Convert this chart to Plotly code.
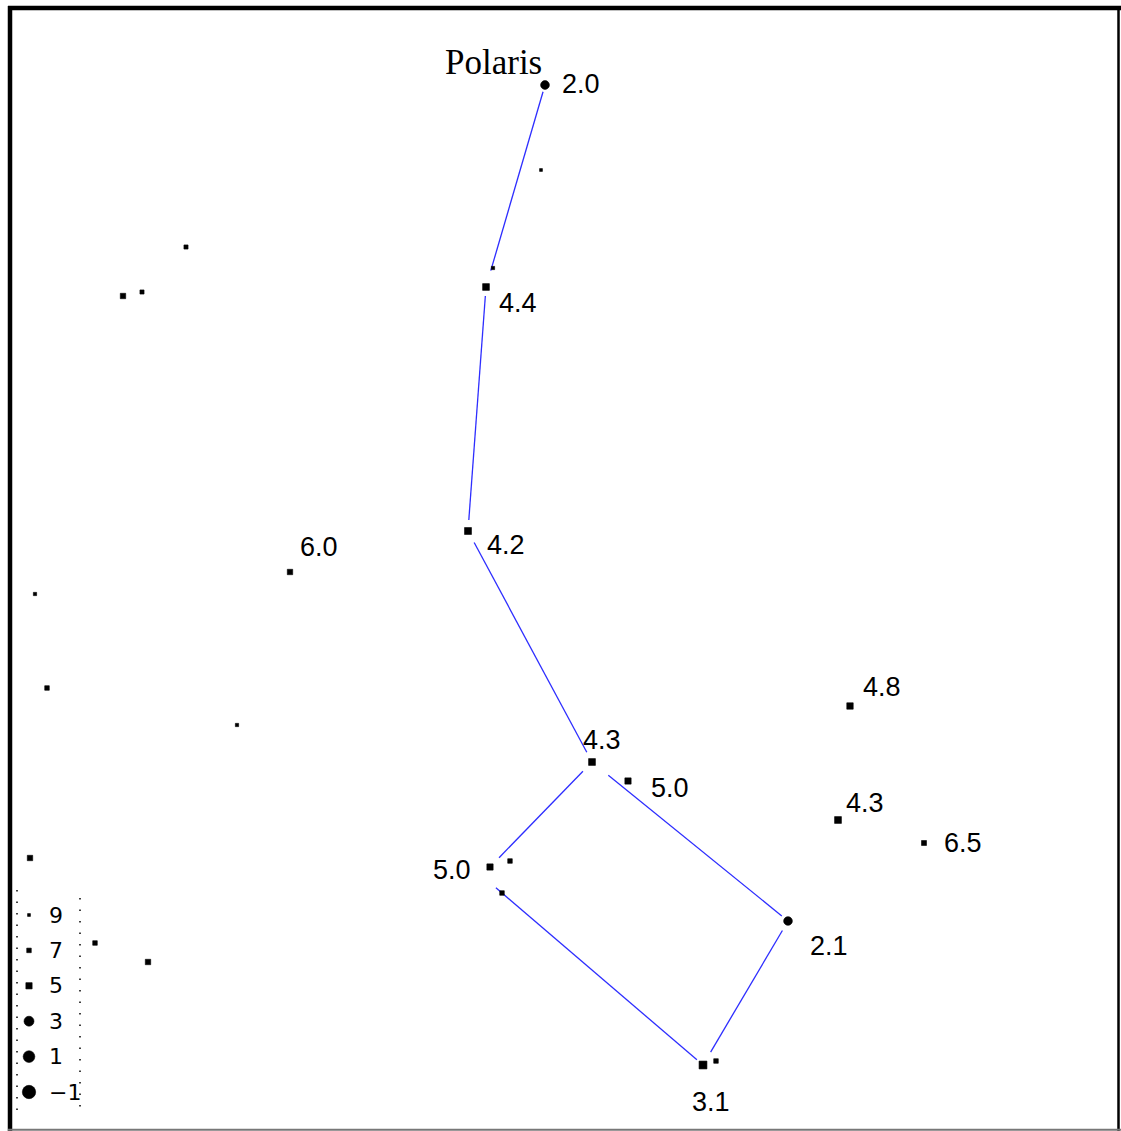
import math
import plotly.graph_objects as go

# ---- data (chart units: x to the right, y downward) ----
star_x = [545, 486, 468, 592, 628, 490, 788, 703, 850, 838, 924, 290,
          541, 493, 186, 123, 142, 35, 47, 237, 30, 95, 148, 510, 502, 716]
star_y = [85, 287, 531, 762, 781, 867, 921, 1065, 706, 820, 843, 572,
          170, 268, 247, 296, 292, 594, 688, 725, 858, 943, 962, 861, 893, 1061]
star_mag = [2.0, 4.4, 4.2, 4.3, 5.0, 5.0, 2.1, 3.1, 4.8, 4.3, 6.5, 6.0,
            9.0, 8.5, 7.5, 6.0, 7.5, 8.5, 7.0, 8.5, 6.0, 7.0, 6.0, 7.0, 7.0, 7.0]
star_label = ["2.0", "4.4", "4.2", "4.3", "5.0", "5.0", "2.1", "3.1", "4.8", "4.3", "6.5", "6.0",
              "", "", "", "", "", "", "", "", "", "", "", "", "", ""]

# asterism connections (star index pairs)
links_from = [0, 1, 2, 3, 3, 6, 24]
links_to = [1, 2, 3, 5, 6, 7, 7]

legend_mags = [9, 7, 5, 3, 1, -1]
legend_labels = ["9", "7", "5", "3", "1", "\u22121"]

# ---- style ----
label_offsets = [(36, -1), (32, 16), (38, 14), (10, -22), (42, 7), (-38, 3), (41, 25),
                 (8, 37), (32, -19), (27, -17), (39, 0), (29, -25)]
link_trims = [(7, 17), (9, 11), (13, 11), (13, 13), (21, 8), (11, 15), (-8, 8)]
LINE_BLUE = "rgb(45,45,255)"
W, H = 1121, 1131


def msize(m):
    return max(2.5, 10.5 - 0.85 * m)


def msym(m):
    return "circle" if m <= 3.0 else "square"


def px(x):
    return x / W


def py(y):
    return 1 - y / H


fig = go.Figure()

# asterism lines
lx, ly = [], []
for a, b, (t0, t1) in zip(links_from, links_to, link_trims):
    x0, y0, x1, y1 = star_x[a], star_y[a], star_x[b], star_y[b]
    d = math.hypot(x1 - x0, y1 - y0)
    ux, uy = (x1 - x0) / d, (y1 - y0) / d
    lx += [x0 + ux * t0, x1 - ux * t1, None]
    ly += [y0 + uy * t0, y1 - uy * t1, None]
fig.add_trace(go.Scatter(x=lx, y=ly, mode="lines",
                         line=dict(color=LINE_BLUE, width=1.3),
                         hoverinfo="skip", showlegend=False))

# stars
fig.add_trace(go.Scatter(
    x=star_x, y=star_y, mode="markers",
    marker=dict(color="black", size=[msize(m) for m in star_mag], opacity=1,
                symbol=[msym(m) for m in star_mag], line=dict(width=0.6, color="black")),
    showlegend=False))

# labels
for i, lab in enumerate(star_label):
    if not lab:
        continue
    dx, dy = label_offsets[i]
    fig.add_annotation(x=star_x[i], y=star_y[i], text=lab, showarrow=False,
                       xshift=dx, yshift=-dy, xanchor="center", yanchor="middle",
                       font=dict(family="Liberation Sans", size=27, color="black"))

fig.add_annotation(x=star_x[0], y=star_y[0], text="Polaris", showarrow=False,
                   xshift=-52, yshift=23, xanchor="center", yanchor="middle",
                   font=dict(family="Liberation Serif", size=35, color="black"))

# magnitude key (bottom left)
key_x = 29
key_y0, key_dy = 915, 35.4
key_y = [key_y0 + i * key_dy for i in range(len(legend_mags))]
fig.add_trace(go.Scatter(
    x=[key_x] * len(legend_mags), y=key_y, mode="markers",
    marker=dict(color="black", size=[msize(m) + (2 if m <= 3 else 0) for m in legend_mags],
                opacity=1, symbol=[msym(m) for m in legend_mags],
                line=dict(width=0.6, color="black")),
    showlegend=False, hoverinfo="skip"))
for lab, yy in zip(legend_labels, key_y):
    fig.add_annotation(x=47, y=yy, text=lab, showarrow=False, xanchor="left",
                       yanchor="middle",
                       font=dict(family="DejaVu Sans", size=22, color="black"))

shapes = [
    dict(type="line", x0=px(17), x1=px(17), y0=py(890), y1=py(1112),
         line=dict(color="black", width=1.5, dash="1.5px,10px")),
    dict(type="line", x0=px(80), x1=px(80), y0=py(898), y1=py(1112),
         line=dict(color="black", width=1.5, dash="1.5px,10px")),
    # frame
    dict(type="line", x0=px(10), x1=px(10), y0=py(6), y1=py(1131), line=dict(color="black", width=4.5)),
    dict(type="line", x0=px(8), x1=px(1121), y0=py(8), y1=py(8), line=dict(color="black", width=4.5)),
    dict(type="line", x0=px(1118.5), x1=px(1118.5), y0=py(6), y1=py(1131), line=dict(color="black", width=2.5)),
    dict(type="line", x0=px(8), x1=px(1121), y0=py(1129.8), y1=py(1129.8), line=dict(color="#777777", width=2)),
]
for s in shapes:
    s.update(xref="paper", yref="paper", layer="above")
fig.update_layout(shapes=shapes)

fig.update_layout(
    width=W, height=H, autosize=False,
    margin=dict(l=0, r=0, t=0, b=0, pad=0),
    paper_bgcolor="white", plot_bgcolor="white",
    xaxis=dict(range=[0, W], visible=False, fixedrange=True),
    yaxis=dict(range=[H, 0], visible=False, fixedrange=True),
    showlegend=False,
)

fig.write_html("out.html", config={"displayModeBar": False},
               post_script="document.body.style.margin='0';document.body.style.overflow='hidden';")
